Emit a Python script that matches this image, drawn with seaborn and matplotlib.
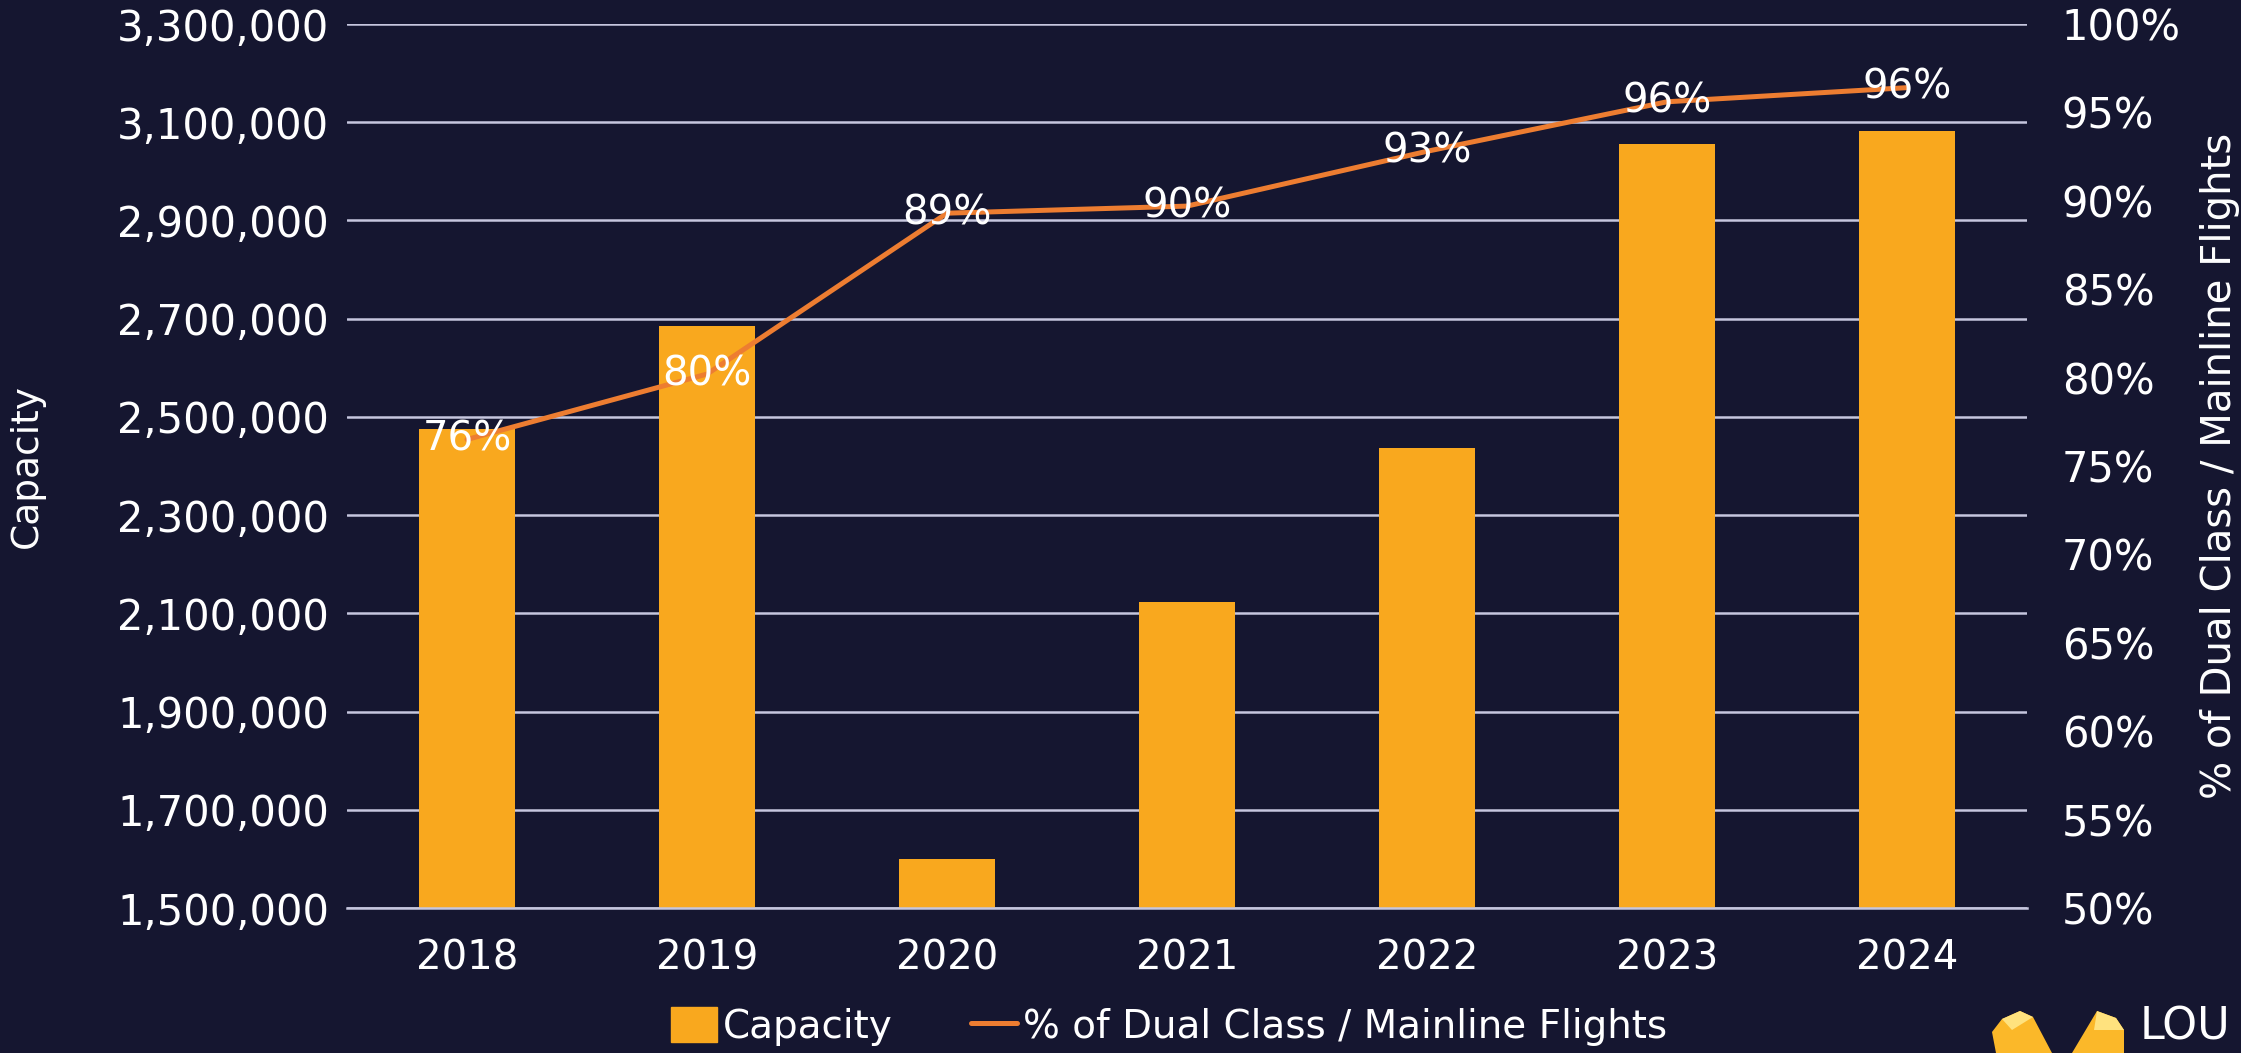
import matplotlib
matplotlib.use("Agg")
import matplotlib.pyplot as plt
import matplotlib.ticker as mticker
from matplotlib.patches import Patch, Polygon
from matplotlib.lines import Line2D
import seaborn as sns
import pandas as pd

# ---- data ----
years = ["2018", "2019", "2020", "2021", "2022", "2023", "2024"]
capacity = [2475000, 2685000, 1600000, 2123000, 2437000, 3055000, 3082000]
pct_dual = [76.5, 80.2, 89.3, 89.7, 92.8, 95.6, 96.4]
pct_labels = ["76%", "80%", "89%", "90%", "93%", "96%", "96%"]
left_ticks = list(range(1500000, 3300001, 200000))
right_ticks = list(range(50, 101, 5))

BG = "#151630"
BAR = "#F9A81E"
LINE = "#ED7D31"
GRID = "#C6C6DE"
TXT = "white"

sns.set_theme(style="white")
plt.rcParams["font.family"] = ["DejaVu Sans"]
plt.rcParams["text.color"] = TXT

df = pd.DataFrame({"year": years, "capacity": capacity, "pct": pct_dual})

fig = plt.figure(figsize=(22.41, 10.53), dpi=100, facecolor=BG)
ax = fig.add_axes([347 / 2241, 1 - 908 / 1053, 1680 / 2241, 884 / 1053])
ax.set_facecolor(BG)

sns.barplot(data=df, x="year", y="capacity", color=BAR, width=0.4,
            saturation=1, linewidth=0, edgecolor=BAR, ax=ax, zorder=2)
ax.set_ylim(1500000, 3300000)
ax.set_xlim(-0.5, 6.5)
ax.set_yticks(left_ticks)
ax.yaxis.set_major_formatter(mticker.FuncFormatter(lambda v, p: f"{v:,.0f}"))
ax.grid(axis="y", color=GRID, lw=1.8, zorder=0)
ax.set_axisbelow(True)
for s in ["left", "right", "top"]:
    ax.spines[s].set_visible(False)
ax.spines["bottom"].set_color(GRID)
ax.spines["bottom"].set_linewidth(1.8)
ax.tick_params(axis="y", length=0, pad=13, labelsize=30, labelcolor=TXT)
ax.tick_params(axis="x", which="major", length=0, pad=22, labelsize=29, labelcolor=TXT)
ax.set_xticks([i - 0.5 for i in range(len(years) + 1)], minor=True)
ax.tick_params(axis="x", which="minor", length=10, width=1.8, color=GRID, direction="out")
ax.set_xlabel("")
ax.set_ylabel("Capacity", fontsize=27, color=TXT)
ax.yaxis.set_label_coords(-0.18, 0.5)

ax2 = ax.twinx()
sns.lineplot(data=df, x="year", y="pct", color=LINE, lw=3.6, sort=False, ax=ax2, zorder=3)
ax2.set_ylim(50, 100)
ax2.set_yticks(right_ticks)
ax2.yaxis.set_major_formatter(mticker.FuncFormatter(lambda v, p: f"{v:.0f}%"))
for s in ["left", "right", "top", "bottom"]:
    ax2.spines[s].set_visible(False)
ax2.tick_params(axis="y", length=0, pad=25, labelsize=30, labelcolor=TXT)
ax2.set_ylabel("% of Dual Class / Mainline Flights", fontsize=29, color=TXT, rotation=90)
ax2.yaxis.set_label_coords(1.103, 0.5)
ax2.grid(False)

for i, (v, lab) in enumerate(zip(pct_dual, pct_labels)):
    ax2.text(i, v, lab, ha="center", va="center", fontsize=29, color=TXT, zorder=5)

handles = [Patch(facecolor=BAR, edgecolor=BAR, label="Capacity"),
           Line2D([0], [0], color=LINE, lw=3.6, label="% of Dual Class / Mainline Flights")]
leg = fig.legend(handles=handles, loc="center", bbox_to_anchor=(1169 / 2241, 0.025),
                 ncol=2, frameon=False, fontsize=28, handlelength=1.2, handleheight=1.0,
                 handletextpad=0.15, columnspacing=2.0, labelcolor=TXT)

# logo (decorative)
def fp(x, y):
    return (x / 2241, 1 - y / 1053)

fig.patches.append(Polygon([fp(1992, 1032), fp(2002, 1019), fp(2020, 1011), fp(2033, 1017),
                            fp(2052, 1053), fp(1996, 1053)], closed=True,
                           transform=fig.transFigure, facecolor="#FBB829", edgecolor="none"))
fig.patches.append(Polygon([fp(2002, 1019), fp(2020, 1011), fp(2033, 1017), fp(2012, 1030)],
                           closed=True, transform=fig.transFigure, facecolor="#FFE27E",
                           edgecolor="none"))
fig.patches.append(Polygon([fp(2072, 1053), fp(2097, 1011), fp(2116, 1018), fp(2124, 1030),
                            fp(2124, 1053)], closed=True, transform=fig.transFigure,
                           facecolor="#FBB829", edgecolor="none"))
fig.patches.append(Polygon([fp(2097, 1011), fp(2116, 1018), fp(2124, 1030), fp(2094, 1030)],
                           closed=True, transform=fig.transFigure, facecolor="#FFE27E",
                           edgecolor="none"))
fig.text(2140 / 2241, 4 / 1053, "LOU", fontsize=32, color=TXT,
         ha="left", va="bottom")

fig.savefig("out.png", dpi=100, facecolor=BG)
